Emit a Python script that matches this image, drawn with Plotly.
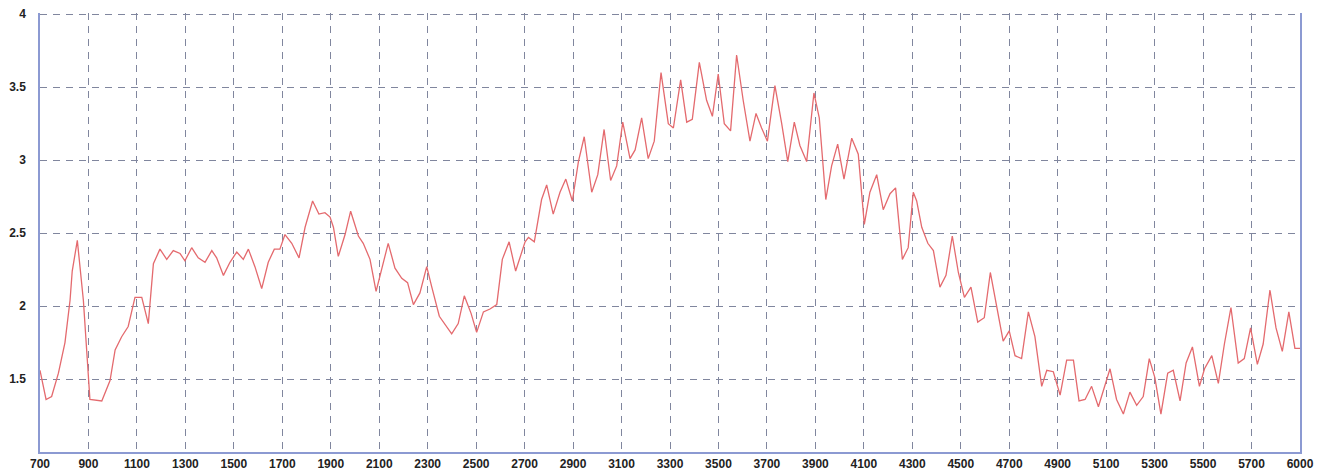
import plotly.graph_objects as go

# Series
x_vals = [700, 725, 748, 776, 803, 824, 833, 854, 879, 900, 906, 955, 989, 1010, 1037, 1064, 1092, 1120, 1147, 1168,
          1195, 1223, 1250, 1278, 1298, 1326, 1353, 1381, 1409, 1429, 1457, 1484, 1512, 1539, 1560, 1587, 1615, 1642, 1667, 1690,
          1711, 1739, 1769, 1794, 1825, 1851, 1876, 1897, 1911, 1931, 1959, 1982, 2014, 2034, 2062, 2087, 2103, 2137, 2165, 2193,
          2217, 2241, 2268, 2296, 2317, 2348, 2399, 2426, 2451, 2479, 2502, 2530, 2557, 2585, 2608, 2636, 2663, 2702, 2716, 2740,
          2770, 2791, 2818, 2846, 2870, 2897, 2922, 2946, 2977, 3002, 3028, 3055, 3080, 3105, 3135, 3156, 3183, 3210, 3235, 3263,
          3293, 3314, 3344, 3369, 3392, 3421, 3451, 3475, 3499, 3524, 3550, 3575, 3602, 3630, 3655, 3678, 3702, 3733, 3761, 3786,
          3813, 3836, 3864, 3894, 3916, 3943, 3967, 3992, 4018, 4050, 4077, 4102, 4125, 4153, 4180, 4208, 4231, 4259, 4283, 4304,
          4318, 4339, 4364, 4387, 4414, 4439, 4465, 4490, 4515, 4542, 4570, 4597, 4622, 4648, 4675, 4700, 4724, 4751, 4779, 4806,
          4834, 4855, 4882, 4910, 4937, 4965, 4988, 5013, 5040, 5068, 5095, 5116, 5143, 5171, 5198, 5226, 5253, 5278, 5301, 5326,
          5354, 5377, 5405, 5430, 5456, 5485, 5506, 5536, 5563, 5588, 5615, 5645, 5670, 5696, 5724, 5748, 5776, 5801, 5827, 5854,
          5879, 5900]
y_vals = [1.56, 1.36, 1.38, 1.54, 1.75, 2.04, 2.24, 2.45, 2.04, 1.51, 1.36, 1.35, 1.49, 1.70, 1.79, 1.86, 2.06, 2.06, 1.88, 2.29,
          2.39, 2.32, 2.38, 2.36, 2.31, 2.40, 2.33, 2.30, 2.38, 2.33, 2.21, 2.30, 2.37, 2.32, 2.39, 2.27, 2.12, 2.30, 2.39, 2.39,
          2.49, 2.43, 2.33, 2.54, 2.72, 2.63, 2.64, 2.61, 2.54, 2.34, 2.49, 2.65, 2.48, 2.43, 2.32, 2.10, 2.20, 2.43, 2.26, 2.19,
          2.16, 2.01, 2.09, 2.27, 2.13, 1.93, 1.81, 1.88, 2.07, 1.95, 1.82, 1.96, 1.98, 2.01, 2.32, 2.44, 2.24, 2.44, 2.47, 2.44,
          2.73, 2.83, 2.63, 2.78, 2.87, 2.72, 2.99, 3.16, 2.78, 2.90, 3.21, 2.86, 2.96, 3.26, 3.01, 3.07, 3.29, 3.01, 3.13, 3.60,
          3.25, 3.22, 3.55, 3.26, 3.28, 3.67, 3.41, 3.30, 3.59, 3.25, 3.20, 3.72, 3.41, 3.13, 3.32, 3.22, 3.13, 3.51, 3.25, 2.99,
          3.26, 3.10, 2.99, 3.46, 3.29, 2.73, 2.96, 3.11, 2.87, 3.15, 3.04, 2.56, 2.78, 2.90, 2.66, 2.77, 2.81, 2.32, 2.40, 2.78,
          2.72, 2.54, 2.43, 2.38, 2.13, 2.21, 2.48, 2.23, 2.06, 2.13, 1.89, 1.92, 2.23, 1.99, 1.76, 1.83, 1.66, 1.64, 1.96, 1.79,
          1.45, 1.56, 1.55, 1.39, 1.63, 1.63, 1.35, 1.36, 1.45, 1.31, 1.45, 1.57, 1.36, 1.26, 1.41, 1.32, 1.38, 1.64, 1.51, 1.26,
          1.54, 1.56, 1.35, 1.61, 1.72, 1.45, 1.57, 1.66, 1.47, 1.74, 1.99, 1.61, 1.64, 1.85, 1.60, 1.74, 2.11, 1.85, 1.69, 1.96,
          1.71, 1.71]

x_tick_vals = [700, 900, 1100, 1300, 1500, 1700, 1900, 2100, 2300, 2500, 2700, 2900, 3100, 3300, 3500, 3700, 3900,
               4100, 4300, 4500, 4700, 4900, 5100, 5300, 5500, 5700, 5900]
x_tick_text = ["700", "900", "1100", "1300", "1500", "1700", "1900", "2100", "2300", "2500", "2700", "2900", "3100",
               "3300", "3500", "3700", "3900", "4100", "4300", "4500", "4700", "4900", "5100", "5300", "5500", "5700", "6000"]
y_tick_vals = [1.5, 2, 2.5, 3, 3.5, 4]
y_tick_text = ["1.5", "2", "2.5", "3", "3.5", "4"]

fig = go.Figure()
fig.add_trace(go.Scatter(x=x_vals, y=y_vals, mode="lines",
                         line=dict(color="#e46a6e", width=1.3), showlegend=False))

grid_color = "#80869e"
axis_color = "#8c9ad2"
tick_font = dict(family="Liberation Sans, Arial, sans-serif", size=12, color="#222222", weight="bold")

fig.update_layout(
    width=1327, height=471,
    margin=dict(l=40, r=27, t=13, b=19),
    paper_bgcolor="white", plot_bgcolor="white",
    xaxis=dict(range=[700, 5900], tickvals=x_tick_vals, ticktext=x_tick_text, automargin=False,
               showgrid=True, gridcolor=grid_color, griddash="7px,6px", gridwidth=1.1,
               showline=True, linecolor=axis_color, linewidth=1.5, mirror=False,
               zeroline=False, ticks="", tickfont=tick_font),
    yaxis=dict(range=[1.0, 4.008], tickvals=y_tick_vals, ticktext=y_tick_text, automargin=False,
               showgrid=True, gridcolor=grid_color, griddash="7px,6px", gridwidth=1.1,
               showline=True, linecolor=axis_color, linewidth=1.5, mirror=True,
               zeroline=False, ticks="", tickfont=tick_font, ticklabelstandoff=10),
)

fig.write_html("out.html", config={"displayModeBar": False},
               post_script="document.body.style.margin='0';document.body.style.overflow='hidden';")
